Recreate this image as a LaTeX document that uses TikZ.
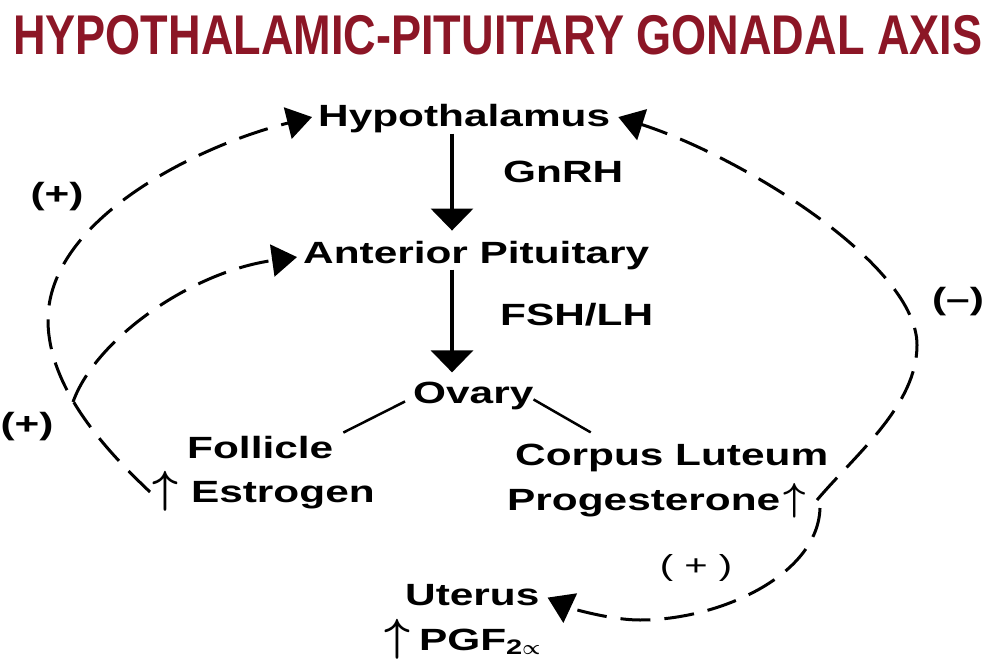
\documentclass[tikz,border=0pt]{standalone}
\usepackage{fontspec}
\usepackage{graphicx}
\setmainfont{Liberation Sans}
\newfontfamily\lblfont{Liberation Sans}[FakeStretch=1.38]
\newfontfamily\titlefont{Liberation Sans}[FakeStretch=0.805]
\usetikzlibrary{arrows.meta,calc}
\definecolor{titlered}{RGB}{140,22,38}
\newcommand{\upar}[1][4.5]{\scalebox{#1}{\fontsize{10}{10}\selectfont\boldmath$\uparrow$}}
\newcommand{\propsym}{\scalebox{2}{\fontsize{10}{10}\selectfont\boldmath$\propto$}}
\begin{document}
\begin{tikzpicture}[x=1pt,y=-1pt,
  lbl/.style={font=\lblfont\bfseries\fontsize{30.7}{34}\selectfont, inner sep=0pt, anchor=base west},
  sign/.style={font=\lblfont\bfseries\fontsize{30.7}{34}\selectfont, inner sep=0pt, anchor=center},
  signlight/.style={font=\lblfont\fontsize{29}{32}\selectfont, inner sep=0pt, anchor=center},
  titlestyle/.style={font=\titlefont\bfseries\fontsize{56}{60}\selectfont, text=titlered, inner sep=0pt, anchor=base west},
  solidarrow/.style={line width=3.5pt, -{Triangle[length=22pt,width=42pt]}},
  plainline/.style={line width=2.5pt},
  dasharrow/.style={line width=3pt, dash pattern=on 30pt off 14pt, -{Triangle[length=25pt,width=32pt]}}]
\fill[white] (0,0) rectangle (984,660);
\useasboundingbox (0,0) rectangle (984,660);

\node[titlestyle] (title) at (13,55) {HYPOTHALAMIC-PITUITARY GONADAL AXIS};

\node[lbl] (hyp) at (318,127) {Hypothalamus};
\node[lbl] (gnrh) at (503,183) {GnRH};
\node[lbl] (ap) at (303,263) {Anterior Pituitary};
\node[lbl] (fsh) at (500,325) {FSH/LH};
\node[lbl] (ov) at (413,403) {Ovary};
\node[lbl] (fol) at (187,458) {Follicle};
\node[lbl] (est) at (152,502) {\upar\kern13pt Estrogen};
\node[lbl] (cl) at (515,465) {Corpus Luteum};
\node[lbl] (prog) at (507,510) {Progesterone\kern3pt\upar[3.9]};
\node[lbl] (ut) at (405,605) {Uterus};
\node[lbl] (pgf) at (384,650) {\upar\kern9pt PGF\raisebox{-4pt}{\fontsize{21}{21}\selectfont 2\propsym}};

\node[sign] (plA) at (57,197) {(+)};
\node[sign] (plB) at (27,427) {(+)};
\node[sign] (mi) at (958,302) {(–)};
\node[signlight] (plC) at (696,568) {( + )};

\coordinate (ax) at (452,0);
\draw[solidarrow] (hyp.south -| ax) -- ($(ap.north -| ax)+(0,-10)$);
\draw[solidarrow] (ap.south -| ax) -- ($(ov.north -| ax)+(0,-9)$);

\draw[plainline] ($(ov.west)+(-8,6)$) -- ($(fol.north east)+(10,-3)$);
\draw[plainline] ($(ov.east)+(0,4)$) -- ($(cl.north)+(-81,-11)$);

\coordinate (fork) at (73,402);
\draw[dasharrow] (150,492) .. controls (110,454) and (48,390) .. (48,320)
  .. controls (48,220) and (196,146) .. ($(hyp.west)+(-6,-2)$);
\draw[dasharrow] (fork) .. controls (95,340) and (190,272) .. ($(ap.west)+(-6,2)$);
\draw[dasharrow] (817,500) .. controls (856,454) and (917,405) .. (917,345)
  .. controls (917,265) and (743,157) .. ($(hyp.east)+(8,-2)$);
\draw[dasharrow] (820,508) .. controls (818,575) and (720,620) .. (640,620)
  .. controls (610,620) and (570,608) .. ($(ut.east)+(8,3)$);
\end{tikzpicture}
\end{document}
